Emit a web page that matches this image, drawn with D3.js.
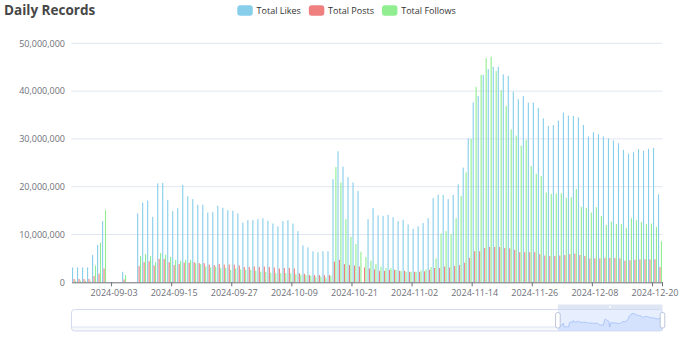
<!DOCTYPE html>
<html>
<head>
<meta charset="utf-8">
<script src="https://cdn.jsdelivr.net/npm/d3@7"></script>
<style>
  html, body { margin: 0; padding: 0; background: #fff; }
  svg { display: block; font-family: "Open Sans", sans-serif; }
</style>
</head>
<body>
<svg id="chart" width="690" height="337"></svg>
<script>
// ---- data -------------------------------------------------------------
const firstDay = "2024-08-26";
const lastDay = "2024-12-21";
const parseDay = d3.utcParse("%Y-%m-%d");
const fmtDay = d3.utcFormat("%Y-%m-%d");
const categories = d3.utcDay
  .range(parseDay(firstDay), d3.utcDay.offset(parseDay(lastDay), 1))
  .map(fmtDay);

const tickLabels = [
  "2024-09-03", "2024-09-15", "2024-09-27", "2024-10-09", "2024-10-21",
  "2024-11-02", "2024-11-14", "2024-11-26", "2024-12-08", "2024-12-20"
];
const yTicks = [0, 10000000, 20000000, 30000000, 40000000, 50000000];

const seriesNames = ["Total Likes", "Total Posts", "Total Follows"];
const seriesColors = ["#87CEEB", "#F08080", "#90EE90"];

const totalLikes = [
  3100000, 3100000, 3100000, 3100000, 5700000, 7800000, 12800000, 0, 0, 0,
  2200000, 0, 0, 14400000, 16700000, 17100000, 13700000, 20700000, 20800000, 17200000,
  14900000, 15500000, 20400000, 18000000, 17400000, 16200000, 16200000, 14600000, 14700000, 16000000,
  15600000, 15100000, 15000000, 14400000, 12500000, 13000000, 13000000, 13200000, 13400000, 12900000,
  12300000, 11700000, 12800000, 13000000, 12300000, 10700000, 7700000, 7300000, 6500000, 6300000,
  6500000, 6500000, 21600000, 27400000, 24200000, 22000000, 20900000, 19100000, 0, 13200000,
  15500000, 14000000, 13900000, 14100000, 13600000, 12800000, 13100000, 12100000, 11200000, 11700000,
  12400000, 13400000, 17600000, 18300000, 18300000, 17400000, 18300000, 20500000, 24000000, 30100000,
  37600000, 39000000, 43400000, 44600000, 45100000, 45100000, 43500000, 43200000, 39900000, 38300000,
  39000000, 37600000, 37600000, 36500000, 34300000, 32700000, 32900000, 33800000, 35500000, 34900000,
  34800000, 34500000, 32900000, 30500000, 31400000, 31000000, 30500000, 30100000, 29700000, 29100000,
  27700000, 26900000, 27200000, 27900000, 27500000, 27900000, 28100000, 18400000
];

const totalPosts = [
  700000, 700000, 700000, 700000, 1300000, 1800000, 2900000, 0, 0, 0,
  600000, 0, 0, 3400000, 4200000, 4400000, 3500000, 4900000, 4900000, 4200000,
  3600000, 3800000, 4100000, 4100000, 4200000, 4000000, 4000000, 3700000, 3600000, 3800000,
  3700000, 3700000, 3700000, 3500000, 3200000, 3200000, 3300000, 3200000, 3300000, 3200000,
  3100000, 2900000, 3000000, 3000000, 2900000, 1900000, 1800000, 1500000, 1500000, 1500000,
  1500000, 1500000, 4300000, 4700000, 3800000, 3600000, 3500000, 3300000, 3100000, 2900000,
  2700000, 2400000, 2400000, 2600000, 2600000, 2400000, 2400000, 2200000, 2200000, 2200000,
  2300000, 2600000, 3000000, 3000000, 3300000, 3100000, 3400000, 3600000, 4100000, 5100000,
  6500000, 6500000, 7200000, 7400000, 7400000, 7400000, 7200000, 7100000, 6800000, 6300000,
  6300000, 6300000, 6300000, 5900000, 5600000, 5500000, 5500000, 5600000, 5700000, 5900000,
  6000000, 5700000, 5500000, 5000000, 5000000, 5000000, 5100000, 5100000, 5100000, 5000000,
  4500000, 4600000, 4700000, 4800000, 4800000, 4800000, 4800000, 3200000
];

const totalFollows = [
  300000, 300000, 300000, 200000, 3500000, 8300000, 15100000, 0, 0, 0,
  1500000, 0, 0, 5500000, 5900000, 5500000, 4200000, 6100000, 5800000, 5300000,
  4700000, 4500000, 4700000, 4700000, 4000000, 3800000, 3300000, 3100000, 3300000, 3000000,
  3000000, 2600000, 2900000, 2700000, 2600000, 2600000, 2400000, 2200000, 2200000, 2000000,
  1900000, 1900000, 1900000, 1900000, 1700000, 1600000, 1500000, 1400000, 1200000, 1200000,
  1000000, 1400000, 24100000, 20900000, 13200000, 9500000, 8000000, 6400000, 5300000, 4500000,
  3800000, 3300000, 3000000, 3000000, 2600000, 2400000, 2200000, 2200000, 2200000, 2500000,
  2700000, 3200000, 5000000, 10200000, 10700000, 10100000, 13400000, 18100000, 23000000, 30000000,
  40900000, 43400000, 46900000, 47200000, 44200000, 40200000, 36900000, 32000000, 30700000, 28600000,
  29800000, 24300000, 22700000, 22200000, 18800000, 18500000, 18600000, 18600000, 17700000, 17800000,
  19500000, 15800000, 15600000, 14600000, 15700000, 13900000, 12000000, 12700000, 12200000, 12200000,
  11400000, 13400000, 13000000, 12600000, 12200000, 12300000, 11600000, 8600000
];

const seriesValues = [totalLikes, totalPosts, totalFollows];

// portion of the full history shown by the slider window
const zoomStart = 0.823;
const zoomEnd = 1.0;

// ---- layout -----------------------------------------------------------
const svg = d3.select("#chart");
const plot = { left: 71.5, right: 662.5, top: 43.3, bottom: 282.3 };
const slider = { top: 309.5, height: 21.5 };

const rows = categories.map((c, i) => ({
  day: c,
  values: seriesNames.map((s, k) => ({ series: s, color: seriesColors[k], value: seriesValues[k][i] }))
}));

const x = d3.scaleBand()
  .domain(categories)
  .range([plot.left, plot.right])
  .paddingInner(0.2)
  .paddingOuter(0.1);
const xSub = d3.scaleBand()
  .domain(seriesNames)
  .range([0, x.bandwidth()])
  .paddingInner(0.3 / 1.3);
const y = d3.scaleLinear().domain([0, 50000000]).range([plot.bottom, plot.top]);
const bandStart = d => x(d) - x.step() * x.paddingOuter();

// ---- grid -------------------------------------------------------------
svg.append("g")
  .selectAll("line")
  .data(yTicks.slice(1))
  .join("line")
  .attr("x1", plot.left).attr("x2", plot.right)
  .attr("y1", d => y(d)).attr("y2", d => y(d))
  .attr("stroke", "#E0E6F1").attr("stroke-width", 1);

// ---- y axis labels ----------------------------------------------------
const yAxis = svg.append("g")
  .attr("transform", `translate(${plot.left},0)`)
  .call(d3.axisLeft(y).tickValues(yTicks).tickFormat(d3.format(",")).tickSize(0).tickPadding(6.5));
yAxis.select(".domain").remove();
yAxis.selectAll("text")
  .attr("fill", "#6E7079")
  .style("font-size", "9px")
  .style("font-family", "'Open Sans', sans-serif");

// ---- bars -------------------------------------------------------------
const groups = svg.append("g")
  .selectAll("g")
  .data(rows)
  .join("g")
  .attr("transform", d => `translate(${x(d.day)},0)`);
groups.selectAll("rect")
  .data(d => d.values.filter(v => v.value > 0))
  .join("rect")
  .attr("x", v => xSub(v.series))
  .attr("width", xSub.bandwidth())
  .attr("y", v => y(v.value))
  .attr("height", v => y(0) - y(v.value))
  .attr("fill", v => v.color);

// ---- x axis -----------------------------------------------------------
const xAxis = svg.append("g")
  .attr("transform", `translate(0,${plot.bottom})`)
  .call(d3.axisBottom(x).tickValues(tickLabels).tickSize(0).tickSizeOuter(0).tickPadding(7));
xAxis.select(".domain").attr("stroke", "#6E7079");
xAxis.selectAll(".tick text")
  .attr("fill", "#6E7079")
  .style("font-size", "9px")
  .style("font-family", "'Open Sans', sans-serif");
svg.append("g")
  .selectAll("line")
  .data(tickLabels)
  .join("line")
  .attr("x1", d => bandStart(d)).attr("x2", d => bandStart(d))
  .attr("y1", plot.bottom).attr("y2", plot.bottom + 4)
  .attr("stroke", "#6E7079");
svg.append("line")
  .attr("x1", plot.right).attr("x2", plot.right)
  .attr("y1", plot.bottom).attr("y2", plot.bottom + 4)
  .attr("stroke", "#6E7079");

// ---- title ------------------------------------------------------------
svg.append("text")
  .attr("x", 4).attr("y", 15)
  .attr("fill", "#464646")
  .style("font-size", "13.5px")
  .style("font-weight", "bold")
  .text("Daily Records");

// ---- legend -----------------------------------------------------------
const legend = svg.append("g");
const iconW = 15.5, iconH = 10.5, textGap = 3.8, itemGap = 8, legendY = 10.5;
const items = legend.selectAll("g").data(seriesNames).join("g");
items.append("rect")
  .attr("width", iconW).attr("height", iconH)
  .attr("y", legendY - iconH / 2)
  .attr("rx", 3)
  .attr("fill", (d, k) => seriesColors[k]);
items.append("text")
  .attr("x", iconW + textGap)
  .attr("y", legendY)
  .attr("dy", "0.35em")
  .attr("fill", "#333")
  .style("font-size", "9px")
  .text(d => d);
let cursor = 0;
items.each(function () {
  const w = iconW + textGap + this.querySelector("text").getComputedTextLength();
  d3.select(this).attr("transform", `translate(${cursor},0)`);
  cursor += w + itemGap;
});
const legendWidth = cursor - itemGap;
legend.attr("transform", `translate(${346.5 - legendWidth / 2},0)`);

// ---- data zoom slider -------------------------------------------------
const sx0 = plot.left, sx1 = plot.right;
const sTop = slider.top, sBottom = slider.top + slider.height;
const wx0 = sx0 + zoomStart * (sx1 - sx0);
const wx1 = sx0 + zoomEnd * (sx1 - sx0);
const maxLikes = d3.max(totalLikes);
const shadowY = d3.scaleLinear()
  .domain([-0.3 * maxLikes, 1.3 * maxLikes])
  .range([sBottom, sTop]);
const shadowX = d3.scalePoint().domain(categories).range([wx0, wx1]);

const sliderG = svg.append("g");
// history before the window: baseline only
sliderG.append("line")
  .attr("x1", sx0).attr("x2", wx0)
  .attr("y1", shadowY(0)).attr("y2", shadowY(0))
  .attr("stroke", "#d2dbee").attr("stroke-width", 0.7);
sliderG.append("rect")
  .attr("x", sx0).attr("y", shadowY(0))
  .attr("width", wx0 - sx0).attr("height", sBottom - shadowY(0))
  .attr("fill", "#d2dbee").attr("opacity", 0.2);

// window content shadow from the likes series
const area = d3.area()
  .x((d, i) => shadowX(categories[i]))
  .y0(sBottom)
  .y1(d => shadowY(d));
const line = d3.line()
  .x((d, i) => shadowX(categories[i]))
  .y(d => shadowY(d));
sliderG.append("path")
  .attr("d", area(totalLikes))
  .attr("fill", "#8fb0f7").attr("opacity", 0.2);
sliderG.append("path")
  .attr("d", line(totalLikes))
  .attr("fill", "none").attr("stroke", "#8fb0f7").attr("stroke-width", 0.6);

// filler for the selected window
sliderG.append("rect")
  .attr("x", wx0).attr("y", sTop)
  .attr("width", wx1 - wx0).attr("height", slider.height)
  .attr("fill", "rgba(135,175,255,0.2)");
// move handle bar above the window
sliderG.append("rect")
  .attr("x", wx0).attr("y", sTop - 5)
  .attr("width", wx1 - wx0).attr("height", 5)
  .attr("fill", "#D2DBEE").attr("opacity", 0.7);
sliderG.append("circle")
  .attr("cx", (wx0 + wx1) / 2).attr("cy", sTop - 2.5).attr("r", 0.9)
  .attr("fill", "#fff");
// outer frame
sliderG.append("rect")
  .attr("x", sx0).attr("y", sTop)
  .attr("width", sx1 - sx0).attr("height", slider.height)
  .attr("rx", 3)
  .attr("fill", "none").attr("stroke", "#d2dbee");
// resize handles
sliderG.selectAll("rect.handle")
  .data([wx0, wx1])
  .join("rect")
  .attr("class", "handle")
  .attr("x", d => d - 2.3).attr("y", sTop + 3)
  .attr("width", 4.6).attr("height", slider.height - 6)
  .attr("rx", 2)
  .attr("fill", "#fff").attr("stroke", "#ACB8D1").attr("stroke-width", 0.8);
</script>
</body>
</html>
